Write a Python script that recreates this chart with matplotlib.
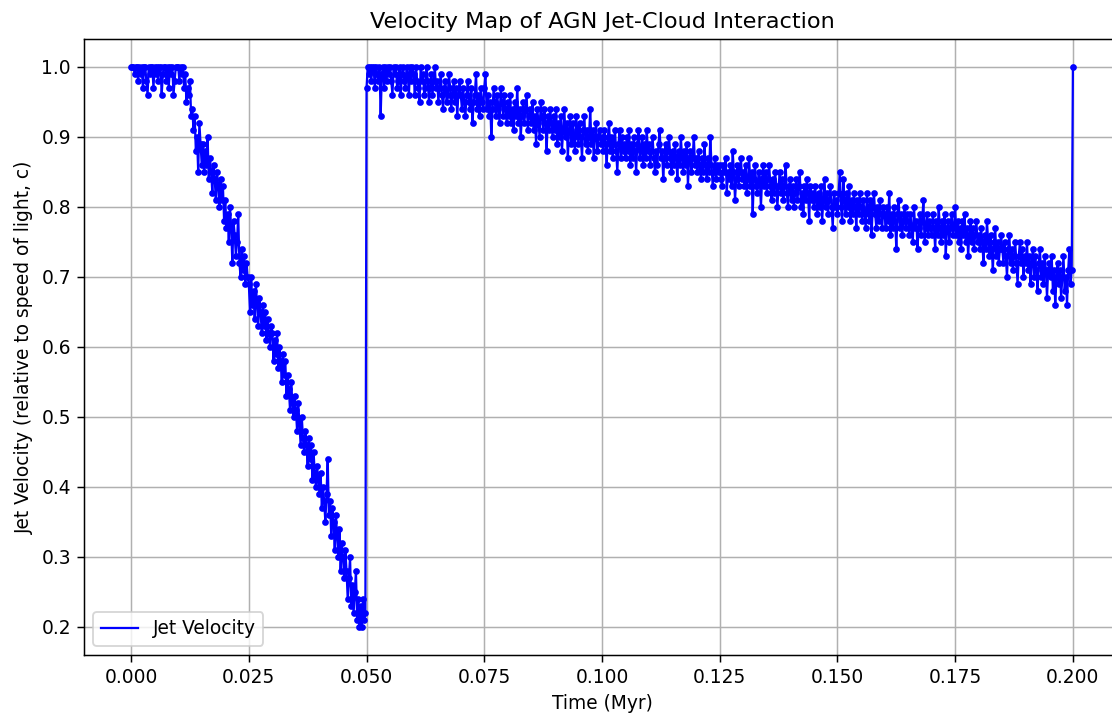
import numpy as np
import matplotlib
matplotlib.use('Agg')
import matplotlib.pyplot as plt

# jet velocity (fraction of c), one value every 0.00025 Myr
# phase 1: deceleration through the cloud, t = 0.0000 .. 0.04975
v_decel = [
    1.00, 1.00, 1.00, 0.99, 1.00, 1.00, 0.98, 1.00, 0.99, 1.00, 0.97, 1.00, 1.00, 0.98, 0.96, 1.00, 0.99, 1.00, 1.00, 0.97,
    1.00, 0.99, 1.00, 0.98, 1.00, 1.00, 0.96, 0.99, 1.00, 1.00, 0.98, 1.00, 0.97, 1.00, 0.99, 1.00, 0.96, 0.98, 1.00, 1.00,
    1.00, 0.98, 1.00, 0.99, 1.00, 0.97, 0.99, 0.95, 0.97, 0.96, 0.98, 0.93, 0.94, 0.91, 0.93, 0.88, 0.90, 0.85, 0.92, 0.89,
    0.86, 0.89, 0.85, 0.88, 0.86, 0.90, 0.84, 0.87, 0.85, 0.82, 0.86, 0.84, 0.81, 0.85, 0.83, 0.80, 0.84, 0.81, 0.83, 0.78,
    0.81, 0.77, 0.79, 0.75, 0.80, 0.77, 0.72, 0.78, 0.76, 0.73, 0.75, 0.79, 0.72, 0.70, 0.74, 0.71, 0.73, 0.69, 0.72, 0.70,
    0.69, 0.65, 0.70, 0.66, 0.68, 0.64, 0.69, 0.66, 0.63, 0.67, 0.65, 0.62, 0.66, 0.63, 0.65, 0.61, 0.64, 0.62, 0.60, 0.63,
    0.62, 0.58, 0.61, 0.59, 0.62, 0.57, 0.60, 0.58, 0.55, 0.59, 0.56, 0.58, 0.53, 0.56, 0.54, 0.51, 0.55, 0.52, 0.50, 0.53,
    0.51, 0.48, 0.52, 0.49, 0.46, 0.50, 0.47, 0.45, 0.48, 0.46, 0.43, 0.47, 0.44, 0.46, 0.41, 0.45, 0.42, 0.40, 0.43, 0.41,
    0.39, 0.42, 0.37, 0.40, 0.38, 0.35, 0.39, 0.44, 0.36, 0.38, 0.33, 0.37, 0.35, 0.31, 0.36, 0.33, 0.30, 0.34, 0.28, 0.32,
    0.30, 0.27, 0.31, 0.28, 0.24, 0.27, 0.30, 0.23, 0.26, 0.22, 0.25, 0.28, 0.21, 0.24, 0.20, 0.23, 0.20, 0.24, 0.21, 0.22,
]

# phase 2: re-acceleration and slow decay, t = 0.0500 .. 0.19975
v_recover = [
    0.97, 1.00, 0.99, 1.00, 0.98, 1.00, 1.00, 0.97, 1.00, 0.99, 0.98, 1.00, 0.93, 0.99, 1.00, 0.97, 1.00, 0.98, 1.00, 0.99,
    1.00, 0.98, 0.96, 1.00, 0.99, 1.00, 0.97, 0.98, 1.00, 0.96, 0.99, 1.00, 0.98, 0.97, 1.00, 0.99, 0.96, 1.00, 0.98, 1.00,
    0.99, 0.96, 1.00, 0.98, 0.97, 0.95, 1.00, 0.98, 0.99, 0.96, 0.97, 1.00, 0.98, 0.95, 0.97, 0.99, 0.96, 0.98, 1.00, 0.97,
    0.98, 0.95, 0.97, 0.99, 0.96, 0.94, 0.97, 0.98, 0.95, 0.96, 0.99, 0.97, 0.94, 0.96, 0.98, 0.95, 0.97, 0.93, 0.96, 0.98,
    0.96, 0.94, 0.97, 0.95, 0.93, 0.96, 0.98, 0.95, 0.94, 0.97, 0.92, 0.95, 0.96, 0.99, 0.94, 0.96, 0.93, 0.97, 0.95, 0.94,
    0.97, 0.99, 0.94, 0.96, 0.93, 0.95, 0.90, 0.94, 0.97, 0.95, 0.93, 0.96, 0.94, 0.92, 0.97, 0.95, 0.93, 0.96, 0.94, 0.92,
    0.95, 0.93, 0.96, 0.92, 0.94, 0.91, 0.95, 0.93, 0.97, 0.92, 0.94, 0.90, 0.93, 0.95, 0.92, 0.94, 0.96, 0.91, 0.93, 0.94,
    0.92, 0.95, 0.91, 0.93, 0.89, 0.94, 0.92, 0.90, 0.95, 0.93, 0.91, 0.94, 0.92, 0.88, 0.93, 0.91, 0.94, 0.92, 0.90, 0.93,
    0.91, 0.94, 0.89, 0.92, 0.90, 0.93, 0.88, 0.91, 0.94, 0.90, 0.92, 0.87, 0.91, 0.93, 0.89, 0.92, 0.90, 0.88, 0.93, 0.91,
    0.89, 0.92, 0.90, 0.87, 0.91, 0.93, 0.89, 0.91, 0.88, 0.90, 0.94, 0.89, 0.91, 0.87, 0.90, 0.92, 0.88, 0.90, 0.91, 0.89,
    0.90, 0.88, 0.91, 0.89, 0.86, 0.90, 0.92, 0.88, 0.90, 0.87, 0.89, 0.91, 0.88, 0.85, 0.89, 0.91, 0.87, 0.90, 0.88, 0.89,
    0.87, 0.90, 0.88, 0.91, 0.86, 0.89, 0.87, 0.90, 0.88, 0.85, 0.89, 0.91, 0.87, 0.88, 0.90, 0.86, 0.89, 0.87, 0.91, 0.88,
    0.89, 0.86, 0.88, 0.90, 0.87, 0.85, 0.88, 0.86, 0.89, 0.91, 0.87, 0.88, 0.84, 0.87, 0.89, 0.86, 0.88, 0.90, 0.87, 0.85,
    0.88, 0.86, 0.89, 0.87, 0.84, 0.88, 0.86, 0.90, 0.87, 0.85, 0.88, 0.86, 0.89, 0.83, 0.87, 0.88, 0.85, 0.87, 0.90, 0.86,
    0.87, 0.85, 0.88, 0.86, 0.84, 0.87, 0.85, 0.89, 0.86, 0.84, 0.87, 0.85, 0.90, 0.86, 0.83, 0.85, 0.87, 0.84, 0.86, 0.85,
    0.86, 0.84, 0.83, 0.86, 0.85, 0.87, 0.82, 0.85, 0.84, 0.86, 0.83, 0.88, 0.85, 0.81, 0.84, 0.86, 0.83, 0.85, 0.87, 0.84,
    0.85, 0.83, 0.86, 0.82, 0.84, 0.87, 0.83, 0.85, 0.79, 0.84, 0.86, 0.83, 0.82, 0.85, 0.84, 0.80, 0.84, 0.86, 0.83, 0.85,
    0.82, 0.84, 0.86, 0.83, 0.81, 0.84, 0.82, 0.85, 0.83, 0.80, 0.83, 0.85, 0.82, 0.84, 0.81, 0.83, 0.86, 0.82, 0.80, 0.83,
    0.84, 0.81, 0.83, 0.80, 0.82, 0.84, 0.81, 0.83, 0.85, 0.80, 0.82, 0.79, 0.83, 0.81, 0.84, 0.82, 0.78, 0.83, 0.81, 0.82,
    0.80, 0.83, 0.81, 0.79, 0.82, 0.80, 0.83, 0.78, 0.81, 0.84, 0.80, 0.82, 0.79, 0.81, 0.83, 0.80, 0.77, 0.82, 0.80, 0.81,
    0.79, 0.82, 0.85, 0.80, 0.78, 0.84, 0.81, 0.79, 0.82, 0.80, 0.83, 0.78, 0.81, 0.79, 0.82, 0.80, 0.77, 0.81, 0.79, 0.82,
    0.80, 0.78, 0.81, 0.79, 0.77, 0.82, 0.80, 0.78, 0.81, 0.76, 0.80, 0.82, 0.79, 0.77, 0.80, 0.78, 0.81, 0.79, 0.77, 0.80,
    0.79, 0.77, 0.80, 0.78, 0.82, 0.76, 0.79, 0.77, 0.80, 0.78, 0.74, 0.79, 0.81, 0.77, 0.79, 0.76, 0.78, 0.80, 0.77, 0.79,
    0.78, 0.76, 0.79, 0.77, 0.75, 0.80, 0.77, 0.78, 0.74, 0.77, 0.79, 0.76, 0.78, 0.81, 0.75, 0.77, 0.79, 0.76, 0.78, 0.77,
    0.76, 0.79, 0.77, 0.74, 0.78, 0.76, 0.80, 0.77, 0.75, 0.78, 0.76, 0.79, 0.73, 0.77, 0.78, 0.75, 0.77, 0.79, 0.76, 0.77,
    0.80, 0.76, 0.78, 0.75, 0.77, 0.74, 0.78, 0.76, 0.79, 0.75, 0.77, 0.73, 0.76, 0.78, 0.75, 0.77, 0.74, 0.76, 0.78, 0.75,
    0.76, 0.74, 0.77, 0.75, 0.72, 0.76, 0.74, 0.78, 0.75, 0.73, 0.76, 0.74, 0.71, 0.75, 0.77, 0.73, 0.75, 0.72, 0.74, 0.76,
    0.74, 0.72, 0.75, 0.73, 0.70, 0.74, 0.76, 0.72, 0.74, 0.71, 0.73, 0.75, 0.72, 0.69, 0.73, 0.75, 0.72, 0.74, 0.70, 0.73,
    0.72, 0.75, 0.71, 0.73, 0.69, 0.72, 0.74, 0.70, 0.73, 0.71, 0.68, 0.72, 0.74, 0.70, 0.72, 0.69, 0.73, 0.71, 0.67, 0.71,
    0.72, 0.70, 0.73, 0.68, 0.71, 0.66, 0.70, 0.72, 0.69, 0.71, 0.67, 0.70, 0.73, 0.68, 0.70, 0.66, 0.71, 0.74, 0.69, 0.71,
]

# final sample at t = 0.2000
v_last = [1.00]

dt = 0.00025
velocity = np.array(v_decel + v_recover + v_last)
time = np.arange(len(velocity)) * dt

W, H = 1112, 715
DPI = 134
fig = plt.figure(figsize=(W / DPI, H / DPI), dpi=DPI)
ax = fig.add_axes([84 / W, 60 / H, 1036 / W, 616.3 / H])

ax.plot(time, velocity, color='blue', linewidth=1.2, label='Jet Velocity')
ax.plot(time, velocity, 'o', color='blue', markersize=2.6)

ax.set_title('Velocity Map of AGN Jet-Cloud Interaction')
ax.set_xlabel('Time (Myr)')
ax.set_ylabel('Jet Velocity (relative to speed of light, c)')
ax.legend(loc='lower left')
ax.grid(True)

fig.savefig('out.png', dpi=DPI)
